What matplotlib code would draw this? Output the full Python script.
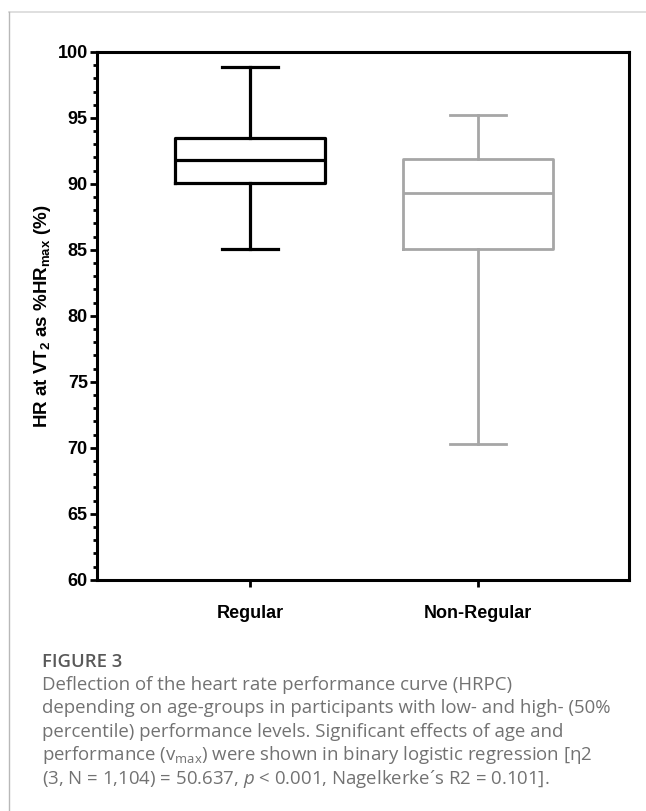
import matplotlib.pyplot as plt
from matplotlib.lines import Line2D
from matplotlib.ticker import MultipleLocator

# data
grupper = ['Regular', 'Non-Regular']
whisk_lo = [85.1, 70.3]
q1 = [90.1, 85.1]
median = [91.8, 89.3]
q3 = [93.5, 91.9]
whisk_hi = [98.85, 95.2]
farger = ['#000000', '#a6a6a6']

caption_lines = [
    'Deflection of the heart rate performance curve (HRPC)',
    'depending on age-groups in participants with low- and high- (50%',
    'percentile) performance levels. Significant effects of age and',
    'performance (v$_\\mathregular{max}$) were shown in binary logistic regression [\u03b72',
    '(3, N = 1,104) = 50.637, $\\mathit{p}$ < 0.001, Nagelkerke\u00b4s R2 = 0.101].',
]

plt.rcParams['mathtext.fontset'] = 'custom'
plt.rcParams['mathtext.it'] = 'Open Sans:italic'

fig = plt.figure(figsize=(6.46, 8.11), dpi=100)
ax = fig.add_axes([0.150, 0.285, 0.824, 0.651])

# rita boxarna
for i in range(len(grupper)):
    stats = [{'med': median[i], 'q1': q1[i], 'q3': q3[i],
              'whislo': whisk_lo[i], 'whishi': whisk_hi[i], 'fliers': []}]
    lw = 2.3 if i == 0 else 2.0
    props = dict(color=farger[i], linewidth=lw)
    ax.bxp(stats, positions=[i + 1], widths=0.658, showfliers=False,
           boxprops=props, medianprops=props, whiskerprops=props,
           capprops=props, capwidths=0.246, manage_ticks=False)

ax.set_xlim(0.329, 2.662)
ax.set_ylim(60, 100)
ax.set_xticks([1, 2])
ax.set_xticklabels(grupper, fontsize=13, fontweight='bold', family='Liberation Sans')
ax.yaxis.set_major_locator(MultipleLocator(5))
ax.yaxis.set_minor_locator(MultipleLocator(1))
for lbl in ax.get_yticklabels():
    lbl.set_fontsize(13)
    lbl.set_fontweight('bold')
    lbl.set_family('Liberation Sans')

ax.tick_params(axis='y', which='major', length=5, width=2, pad=1.5, direction='out')
ax.tick_params(axis='y', which='minor', length=3, width=2, direction='out')
ax.tick_params(axis='x', which='major', length=5, width=2, pad=13, direction='out')
for s in ax.spines.values():
    s.set_linewidth(2.2)

ax.set_ylabel('HR at VT$_\\mathregular{2}$ as %HR$_\\mathregular{max}$ (%)',
              fontsize=13.5, fontweight='bold', family='Liberation Sans', labelpad=3)

# ramen runt figuren
fig.add_artist(Line2D([9 / 646, 1.0], [1 - 12 / 811, 1 - 12 / 811],
                      transform=fig.transFigure, color='#d9d9d9', linewidth=1.2))
fig.add_artist(Line2D([9 / 646, 9 / 646], [1 - 12 / 811, 0.0],
                      transform=fig.transFigure, color='#b8b8b8', linewidth=1.0))

# figurtext
fig.text(42 / 646, 1 - 667 / 811, 'FIGURE 3', fontsize=13.3, fontweight='semibold',
         family='Open Sans', color='#595959', va='baseline')
y0 = 690
for k, rad in enumerate(caption_lines):
    fig.text(42 / 646, 1 - (y0 + 23.4 * k) / 811, rad, fontsize=13.4,
             family='Open Sans', color='#727272', va='baseline')

fig.savefig('out.png', dpi=100)
